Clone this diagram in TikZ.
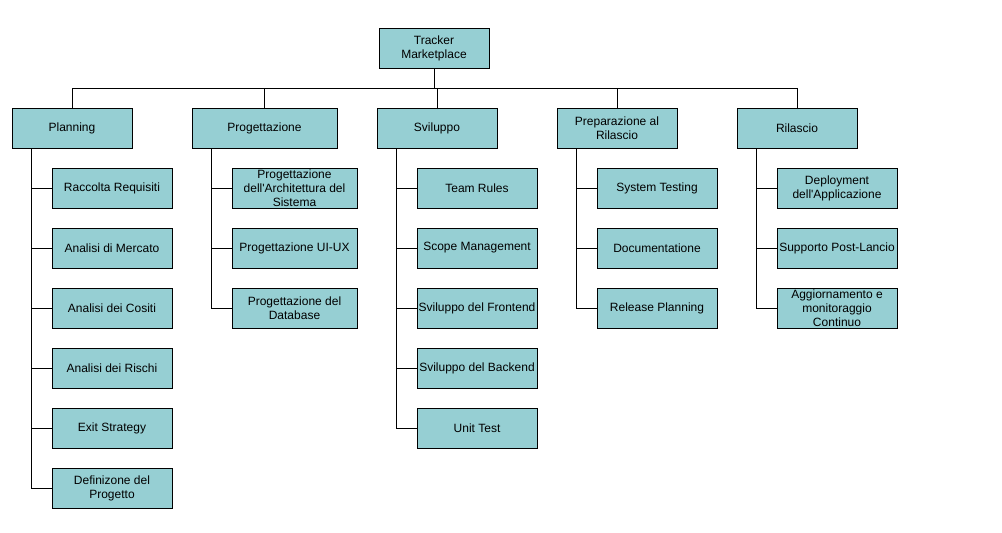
\documentclass[tikz,border=0pt]{standalone}
\usepackage{fontspec}
\setmainfont{Liberation Sans}
\usetikzlibrary{positioning}
\definecolor{boxteal}{HTML}{96CFD3}

\begin{document}
\begin{tikzpicture}[
      x=0.75pt, y=-0.75pt,
      font=\fontsize{9}{10.5}\selectfont,
      box/.style={draw=black, fill=boxteal, line width=0.75pt, align=center,
                  minimum width=90pt, minimum height=30pt, inner xsep=0pt, inner ysep=0pt},
      wide/.style={box, minimum width=108.75pt},
      sub/.style={box, minimum width=93.75pt},
      link/.style={draw=black, line width=0.75pt}]
    \useasboundingbox (0,0) rectangle (1002,532);
    % top level
    \node[box, minimum width=82.5pt] (root) at (434,48) {Tracker\\Marketplace};
    \node[box] (plan) at (72,128) {Planning};
    \node[wide] (prog) at (264.5,128) {Progettazione};
    \node[box] (svil) at (437,128) {Sviluppo};
    \node[box] (prep) at (617,128) {Preparazione al\\Rilascio};
    \node[box] (rila) at (797,128) {Rilascio};
    % planning
    \node[box] (pl1) at (112,188) {Raccolta Requisiti};
    \node[box] (pl2) at (112,248) {Analisi di Mercato};
    \node[box] (pl3) at (112,308) {Analisi dei Cositi};
    \node[box] (pl4) at (112,368) {Analisi dei Rischi};
    \node[box] (pl5) at (112,428) {Exit Strategy};
    \node[box] (pl6) at (112,488) {Definizone del\\Progetto};
    % progettazione
    \node[sub] (pg1) at (294.5,188) {Progettazione\\dell\textquotesingle Architettura del\\Sistema};
    \node[sub] (pg2) at (294.5,248) {Progettazione UI-UX};
    \node[sub] (pg3) at (294.5,308) {Progettazione del\\Database};
    % sviluppo
    \node[box] (sv1) at (477,188) {Team Rules};
    \node[box] (sv2) at (477,248) {Scope Management};
    \node[box] (sv3) at (477,308) {Sviluppo del Frontend};
    \node[box] (sv4) at (477,368) {Sviluppo del Backend};
    \node[box] (sv5) at (477,428) {Unit Test};
    % preparazione
    \node[box] (pr1) at (657,188) {System Testing};
    \node[box] (pr2) at (657,248) {Documentatione};
    \node[box] (pr3) at (657,308) {Release Planning};
    % rilascio
    \node[box] (ri1) at (837,188) {Deployment\\dell\textquotesingle Applicazione};
    \node[box] (ri2) at (837,248) {Supporto Post-Lancio};
    \node[box] (ri3) at (837,308) {Aggiornamento e\\monitoraggio\\Continuo};
    % connectors
    \draw[link] (root.south) -- ++(0,20) -| (plan.north);
    \draw[link] (root.south) -- ++(0,20) -| (prog.north);
    \draw[link] (root.south) -- ++(0,20) -| (svil.north);
    \draw[link] (root.south) -- ++(0,20) -| (prep.north);
    \draw[link] (root.south) -- ++(0,20) -| (rila.north);
    \draw[link] ([xshift=15pt]plan.south west) |- (pl1.west);
    \draw[link] ([xshift=15pt]plan.south west) |- (pl2.west);
    \draw[link] ([xshift=15pt]plan.south west) |- (pl3.west);
    \draw[link] ([xshift=15pt]plan.south west) |- (pl4.west);
    \draw[link] ([xshift=15pt]plan.south west) |- (pl5.west);
    \draw[link] ([xshift=15pt]plan.south west) |- (pl6.west);
    \draw[link] ([xshift=15pt]prog.south west) |- (pg1.west);
    \draw[link] ([xshift=15pt]prog.south west) |- (pg2.west);
    \draw[link] ([xshift=15pt]prog.south west) |- (pg3.west);
    \draw[link] ([xshift=15pt]svil.south west) |- (sv1.west);
    \draw[link] ([xshift=15pt]svil.south west) |- (sv2.west);
    \draw[link] ([xshift=15pt]svil.south west) |- (sv3.west);
    \draw[link] ([xshift=15pt]svil.south west) |- (sv4.west);
    \draw[link] ([xshift=15pt]svil.south west) |- (sv5.west);
    \draw[link] ([xshift=15pt]prep.south west) |- (pr1.west);
    \draw[link] ([xshift=15pt]prep.south west) |- (pr2.west);
    \draw[link] ([xshift=15pt]prep.south west) |- (pr3.west);
    \draw[link] ([xshift=15pt]rila.south west) |- (ri1.west);
    \draw[link] ([xshift=15pt]rila.south west) |- (ri2.west);
    \draw[link] ([xshift=15pt]rila.south west) |- (ri3.west);
\end{tikzpicture}
\end{document}
